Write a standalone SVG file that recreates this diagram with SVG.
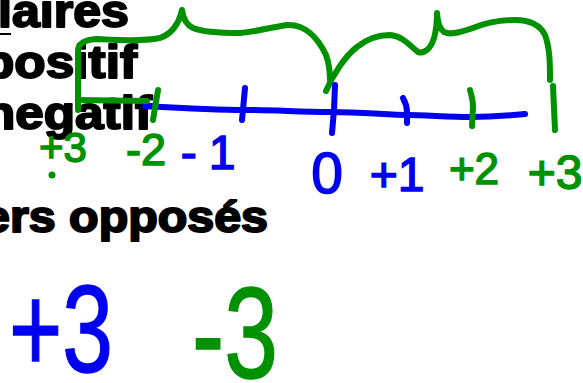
<svg xmlns="http://www.w3.org/2000/svg" width="583" height="383" viewBox="0 0 583 383">
<style>
.print{font-family:"Liberation Sans",Arial,sans-serif;font-weight:bold;fill:#000;stroke:#000;stroke-width:2;stroke-linejoin:round}
.g{fill:none;stroke:#009100;stroke-width:6;stroke-linecap:round;stroke-linejoin:round}
.b{fill:none;stroke:#0000f0;stroke-width:6;stroke-linecap:round;stroke-linejoin:round}
.hg{font-family:"Liberation Sans",Arial,sans-serif;fill:#009100;stroke:#009100;stroke-width:1.5;text-anchor:middle}
.hb{font-family:"Liberation Sans",Arial,sans-serif;fill:#0000f0;stroke:#0000f0;stroke-width:1.5;text-anchor:middle}
</style>
<rect width="583" height="383" fill="#fff"/>
<g id="printed-text">
<text class="print" x="-2" y="27" font-size="46" textLength="131" lengthAdjust="spacingAndGlyphs">laires</text>
<rect x="0" y="33" width="11" height="2" fill="#000"/>
<text class="print" x="-17" y="78" font-size="46" textLength="154" lengthAdjust="spacingAndGlyphs">positif</text>
<text class="print" x="-16" y="129" font-size="46" textLength="168" lengthAdjust="spacingAndGlyphs">negatif</text>
<text class="print" x="-17" y="232" font-size="44" textLength="285" lengthAdjust="spacingAndGlyphs">ers opposés</text>
</g>
<g id="connectors">
<path id="number-line" class="b" d="M145,106 C180,108 215,110 245,110 S300,112 330,112 S390,115 407,115 S450,117 470,117 S515,115 525,114"/>
<path id="brace-left" class="g" d="M78,110 L78,50 Q79,40 97,39 C115,40 140,42 160,38 Q177,32 182,10 Q184,24 193,28 C200,31 213,33 240,33 C255,32 267,28 287,25 C305,24 318,38 326,55 Q330,66 330,80"/>
<path id="brace-bottom" class="g" d="M78,100 L147,101"/>
<path id="brace-right" class="g" d="M326,91 C333,75 345,56 357,47 C368,38 378,35 390,35 C403,36 410,46 418,52 C425,54 431,48 434,38 Q437,28 437,13 Q438,28 444,32 C450,35 458,33 470,29 C485,23 500,20 515,20 C530,20 540,25 545,35 C550,48 550,65 550,80"/>
<path class="g" d="M158,90 L153,120"/>
<path class="b" d="M245,88 L242,120"/>
<path class="b" d="M335,85 L334,110 L332,133"/>
<path class="b" d="M403,98 Q407,105 407,112 L407,123"/>
<path class="g" d="M470,90 Q473,100 473,107 L472,126"/>
<path class="g" d="M553,86 L555,130"/>
</g>
<g id="labels">
<text class="hg" x="63" y="162" font-size="42">+3</text>
<circle cx="52" cy="175" r="3.5" fill="#009100"/>
<text class="hg" x="146" y="165" font-size="45">-2</text>
<text class="hb" x="208" y="169" font-size="48">-<tspan dx="12">1</tspan></text>
<text class="hb" x="327" y="193" font-size="57">0</text>
<text class="hb" x="397" y="191" font-size="48">+1</text>
<text class="hg" x="474" y="184" font-size="44">+2</text>
<text class="hg" x="555" y="189" font-size="48">+3</text>
<text class="hb" x="61" y="372" font-size="125" textLength="104" lengthAdjust="spacingAndGlyphs">+3</text>
<text class="hg" x="235" y="378" font-size="130" textLength="86" lengthAdjust="spacingAndGlyphs">-3</text>
</g>
</svg>
